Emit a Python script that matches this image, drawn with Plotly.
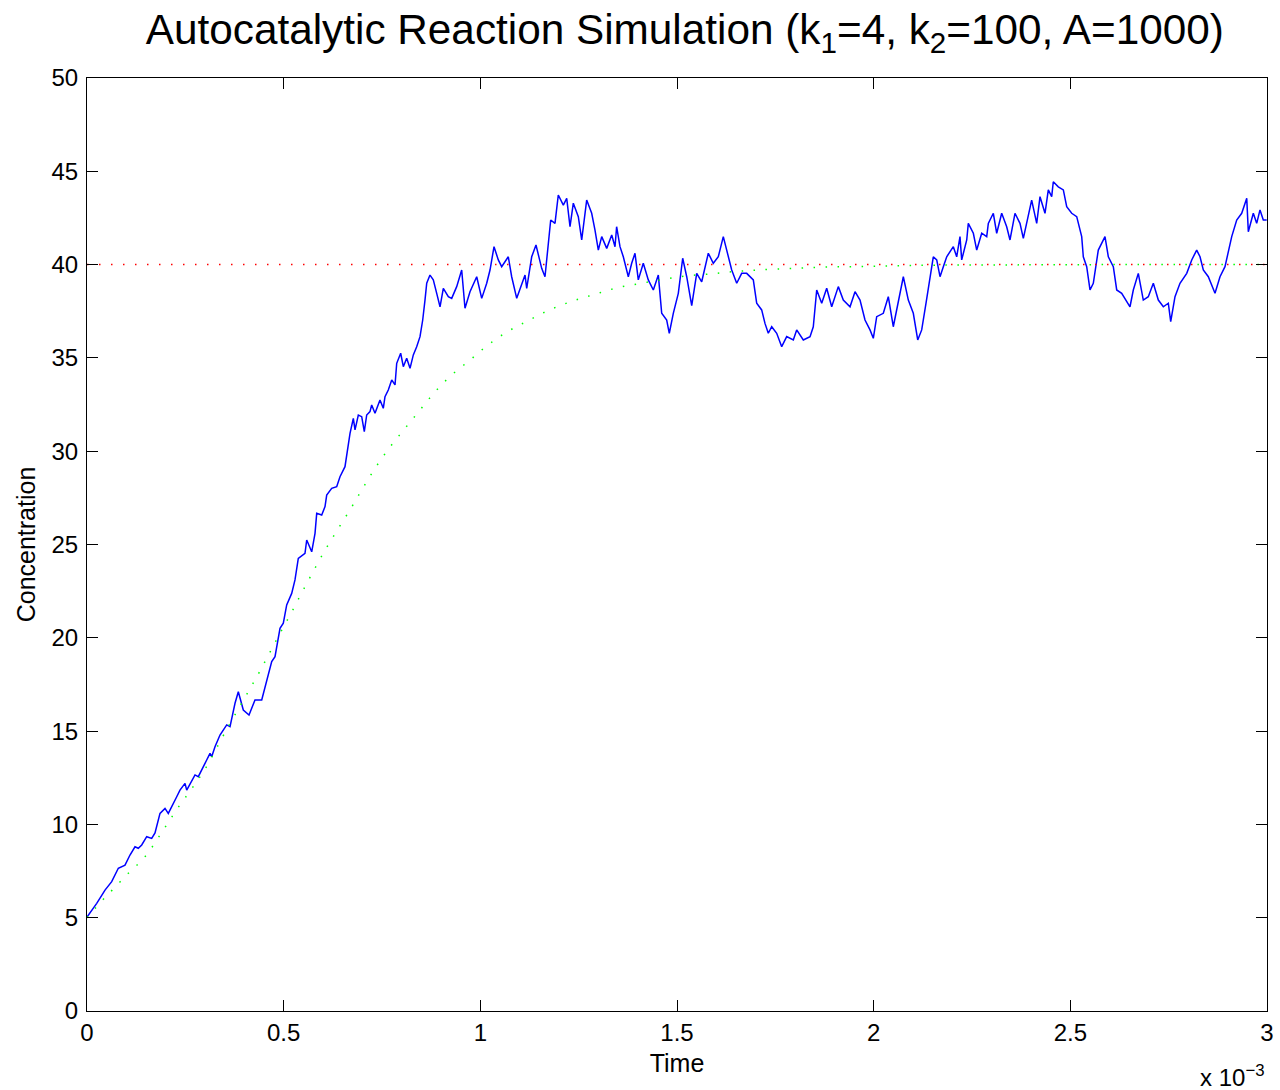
import plotly.graph_objects as go

# Time in units of 1e-3 s
sim_t = [0.0000, 0.0247, 0.0458, 0.0628, 0.0796, 0.0966, 0.1093, 0.1220, 0.1304, 0.1391,
         0.1518, 0.1645, 0.1729, 0.1856, 0.1983, 0.2067, 0.2281, 0.2364, 0.2492, 0.2535,
         0.2746, 0.2830, 0.3043, 0.3127, 0.3170, 0.3254, 0.3381, 0.3552, 0.3636, 0.3763,
         0.3847, 0.3974, 0.4119, 0.4271, 0.4442, 0.4569, 0.4696, 0.4780, 0.4907, 0.4991,
         0.5077, 0.5204, 0.5288, 0.5372, 0.5542, 0.5586, 0.5713, 0.5797, 0.5840, 0.5967,
         0.6051, 0.6094, 0.6221, 0.6348, 0.6432, 0.6559, 0.6643, 0.6687, 0.6771, 0.6814,
         0.6898, 0.6984, 0.7050, 0.7111, 0.7195, 0.7238, 0.7322, 0.7449, 0.7533, 0.7576,
         0.7660, 0.7747, 0.7831, 0.7874, 0.7975, 0.8042, 0.8128, 0.8212, 0.8296, 0.8382,
         0.8466, 0.8535, 0.8593, 0.8637, 0.8720, 0.8804, 0.8891, 0.8975, 0.9059, 0.9186,
         0.9272, 0.9399, 0.9526, 0.9610, 0.9737, 0.9908, 1.0035, 1.0162, 1.0246, 1.0348,
         1.0457, 1.0543, 1.0711, 1.0797, 1.0925, 1.1008, 1.1136, 1.1179, 1.1306, 1.1415,
         1.1517, 1.1560, 1.1644, 1.1728, 1.1789, 1.1898, 1.1982, 1.2110, 1.2196, 1.2280,
         1.2364, 1.2491, 1.2577, 1.2704, 1.2831, 1.2915, 1.3000, 1.3086, 1.3213, 1.3340,
         1.3424, 1.3465, 1.3551, 1.3635, 1.3762, 1.3848, 1.3932, 1.4016, 1.4143, 1.4270,
         1.4398, 1.4525, 1.4611, 1.4738, 1.4804, 1.4906, 1.5033, 1.5145, 1.5247, 1.5374,
         1.5501, 1.5628, 1.5796, 1.5923, 1.6050, 1.6177, 1.6304, 1.6391, 1.6518, 1.6645,
         1.6772, 1.6856, 1.6940, 1.7026, 1.7153, 1.7237, 1.7321, 1.7408, 1.7535, 1.7662,
         1.7789, 1.7957, 1.8043, 1.8211, 1.8382, 1.8465, 1.8552, 1.8679, 1.8806, 1.8933,
         1.9101, 1.9228, 1.9399, 1.9526, 1.9653, 1.9780, 1.9907, 1.9991, 2.0077, 2.0245,
         2.0372, 2.0499, 2.0626, 2.0754, 2.0881, 2.1008, 2.1120, 2.1221, 2.1331, 2.1432,
         2.1516, 2.1603, 2.1687, 2.1771, 2.1857, 2.2025, 2.2111, 2.2195, 2.2238, 2.2366,
         2.2406, 2.2534, 2.2620, 2.2747, 2.2874, 2.2915, 2.3042, 2.3128, 2.3255, 2.3382,
         2.3466, 2.3593, 2.3720, 2.3805, 2.3932, 2.4017, 2.4145, 2.4229, 2.4356, 2.4440,
         2.4526, 2.4567, 2.4694, 2.4822, 2.4908, 2.5035, 2.5162, 2.5289, 2.5330, 2.5416,
         2.5500, 2.5584, 2.5711, 2.5881, 2.5966, 2.6093, 2.6179, 2.6306, 2.6517, 2.6601,
         2.6728, 2.6855, 2.6982, 2.7110, 2.7237, 2.7364, 2.7491, 2.7552, 2.7661, 2.7788,
         2.7959, 2.8086, 2.8213, 2.8297, 2.8381, 2.8508, 2.8678, 2.8805, 2.8932, 2.9017,
         2.9103, 2.9230, 2.9357, 2.9485, 2.9525, 2.9652, 2.9738, 2.9822, 2.9906, 2.9992]

sim_c = [5.04, 5.77, 6.48, 6.93, 7.65, 7.82, 8.36, 8.80, 8.72, 8.90,
         9.34, 9.25, 9.54, 10.59, 10.86, 10.59, 11.48, 11.84, 12.20, 11.84,
         12.65, 12.56, 13.45, 13.81, 13.63, 14.16, 14.79, 15.33, 15.24, 16.49,
         17.11, 16.13, 15.86, 16.67, 16.67, 17.70, 18.72, 18.99, 20.51, 20.78,
         21.76, 22.38, 23.10, 24.26, 24.53, 25.24, 24.61, 25.60, 26.67, 26.58,
         27.03, 27.65, 28.01, 28.10, 28.63, 29.17, 30.42, 30.96, 31.76, 31.14,
         31.94, 31.85, 31.05, 31.94, 32.12, 32.48, 32.03, 32.74, 32.30, 32.92,
         33.28, 33.82, 33.55, 34.71, 35.25, 34.53, 34.98, 34.44, 35.16, 35.60,
         36.14, 37.03, 38.10, 39.00, 39.44, 39.18, 38.46, 37.74, 38.73, 38.28,
         38.19, 38.82, 39.71, 37.66, 38.55, 39.35, 38.19, 39.00, 39.71, 40.96,
         40.25, 39.89, 40.42, 39.35, 38.19, 38.64, 39.44, 38.73, 40.42, 41.05,
         40.25, 39.80, 39.35, 41.14, 42.39, 42.21, 43.73, 43.19, 43.55, 42.03,
         43.29, 42.57, 41.32, 43.46, 42.75, 41.85, 40.78, 41.50, 40.87, 41.59,
         40.96, 42.03, 40.96, 40.42, 39.35, 40.07, 40.61, 39.18, 40.07, 39.18,
         38.64, 39.44, 37.39, 37.03, 36.32, 37.39, 38.46, 40.34, 39.35, 37.80,
         39.53, 39.08, 40.61, 40.07, 40.42, 41.50, 40.42, 39.71, 39.00, 39.53,
         39.53, 39.35, 39.18, 37.93, 37.57, 36.85, 36.32, 36.67, 36.32, 35.60,
         36.14, 35.96, 36.50, 35.96, 36.14, 36.67, 38.64, 37.93, 38.73, 37.74,
         38.82, 38.10, 37.74, 38.55, 38.10, 37.03, 36.50, 36.05, 37.21, 37.39,
         38.28, 36.67, 38.10, 39.35, 38.10, 37.39, 35.96, 36.50, 37.93, 39.35,
         40.42, 40.25, 39.35, 39.89, 40.42, 40.96, 40.42, 41.50, 40.25, 41.32,
         42.21, 41.68, 40.78, 41.68, 41.50, 42.21, 42.75, 41.68, 42.75, 42.03,
         41.32, 42.75, 42.21, 41.41, 42.75, 43.46, 42.21, 43.64, 42.75, 44.00,
         43.64, 44.44, 44.17, 44.00, 43.10, 42.75, 42.57, 41.50, 40.42, 39.89,
         38.64, 39.00, 40.78, 41.50, 40.42, 39.89, 38.64, 38.46, 37.74, 38.64,
         39.53, 38.10, 38.28, 39.00, 38.10, 37.74, 37.93, 36.94, 38.28, 39.00,
         39.53, 40.25, 40.78, 40.42, 39.71, 39.35, 38.46, 39.35, 39.89, 40.78,
         41.50, 42.39, 42.75, 43.55, 41.76, 42.75, 42.21, 42.93, 42.39, 42.39]

det_t = [0.0, 0.0415, 0.0628, 0.1050, 0.1475, 0.1983, 0.2322, 0.2669, 0.3010, 0.3450,
         0.3745, 0.4042, 0.4340, 0.4627, 0.4907, 0.5204, 0.5484, 0.5771, 0.6069, 0.6381,
         0.6704, 0.7009, 0.7322, 0.7670, 0.8052, 0.8433, 0.8815, 0.9237, 0.9712, 1.0170,
         1.0660, 1.1204, 1.1738, 1.2298, 1.2882, 1.3467, 1.4052, 1.4652, 1.5229, 1.5839,
         1.6432, 1.7067, 1.7957, 1.8847, 1.9780, 2.0670, 2.1603, 2.3000, 2.6000, 3.0000]
det_c = [5.00, 5.99, 6.45, 7.38, 8.27, 9.84, 10.92, 11.93, 13.00, 14.70,
         15.81, 16.90, 18.00, 19.13, 20.24, 21.38, 22.51, 23.63, 24.76, 25.83,
         26.92, 28.01, 29.08, 30.13, 31.14, 32.12, 33.10, 34.02, 34.84, 35.65,
         36.37, 36.98, 37.55, 38.01, 38.39, 38.75, 38.98, 39.21, 39.39, 39.50,
         39.62, 39.71, 39.80, 39.87, 39.90, 39.94, 39.97, 39.98, 40.00, 40.00]

eq_t = [0.0, 3.0]
eq_c = [40, 40]

x_ticks = [0, 0.5, 1, 1.5, 2, 2.5, 3]
x_labels = ["0", "0.5", "1", "1.5", "2", "2.5", "3"]
y_ticks = [0, 5, 10, 15, 20, 25, 30, 35, 40, 45, 50]

FONT = "Liberation Sans, Arial, Helvetica, sans-serif"

fig = go.Figure()
fig.add_trace(go.Scatter(x=sim_t, y=sim_c, mode="lines",
                         line=dict(color="#0000ff", width=1.5), showlegend=False))
fig.add_trace(go.Scatter(x=eq_t, y=eq_c, mode="lines",
                         line=dict(color="#ff0000", width=1.5, dash="1.5px,10.5px"), showlegend=False))
fig.add_trace(go.Scatter(x=det_t, y=det_c, mode="lines", line_shape="spline",
                         line=dict(color="#00ff00", width=1.5, dash="1.5px,10.5px"), showlegend=False))

axis_common = dict(showline=True, linecolor="black", linewidth=1, mirror="allticks",
                   ticks="inside", ticklen=11, tickcolor="black", tickwidth=1,
                   showgrid=False, zeroline=False, automargin=False,
                   tickfont=dict(family=FONT, size=24, color="black"))

fig.update_xaxes(range=[0, 3], tickvals=x_ticks, ticktext=x_labels,
                 title=dict(text="Time", font=dict(family=FONT, size=25, color="black"), standoff=9),
                 **axis_common)
fig.update_yaxes(range=[0, 50], tickvals=y_ticks, ticklabelstandoff=3,
                 title=dict(text="Concentration", font=dict(family=FONT, size=25, color="black"), standoff=8),
                 **axis_common)

fig.update_layout(
    width=1280, height=1090,
    margin=dict(l=87, r=13, t=78, b=79),
    paper_bgcolor="white", plot_bgcolor="white",
    title=dict(text="Autocatalytic Reaction Simulation (k<sub>1</sub>=4, k<sub>2</sub>=100, A=1000)",
               font=dict(family=FONT, size=42.3, color="black"),
               x=0.535, xanchor="center", y=0.973, yanchor="middle", yref="container"),
    annotations=[dict(text="x 10<sup>−3</sup>", xref="paper", yref="paper",
                      x=1.0, y=0, xanchor="right", yanchor="top", yshift=-48, xshift=0,
                      showarrow=False, font=dict(family=FONT, size=24, color="black"))],
)

fig.write_html("out.html")
